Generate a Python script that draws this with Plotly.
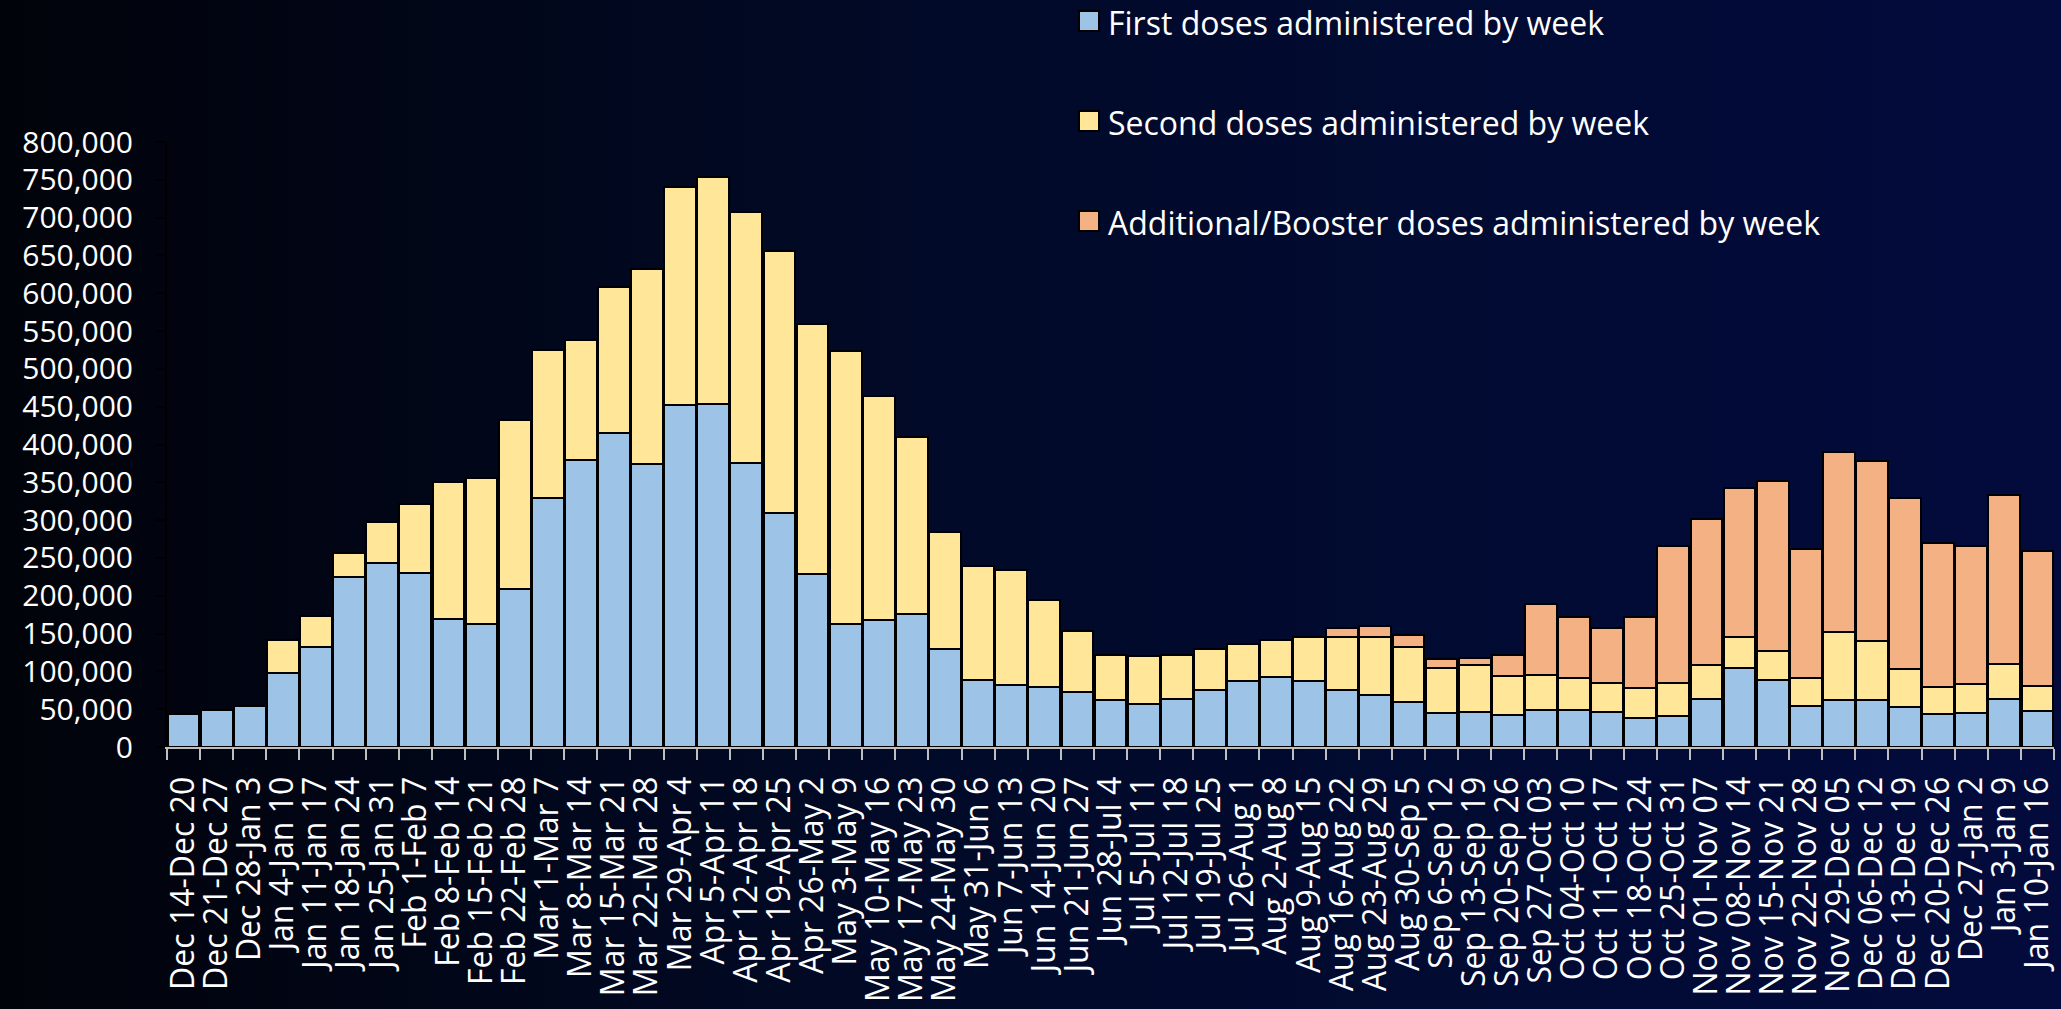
import base64
import plotly.graph_objects as go

weeks = [
    "Dec 14-Dec 20", "Dec 21-Dec 27", "Dec 28-Jan 3", "Jan 4-Jan 10", "Jan 11-Jan 17",
    "Jan 18-Jan 24", "Jan 25-Jan 31", "Feb 1-Feb 7", "Feb 8-Feb 14", "Feb 15-Feb 21",
    "Feb 22-Feb 28", "Mar 1-Mar 7", "Mar 8-Mar 14", "Mar 15-Mar 21", "Mar 22-Mar 28",
    "Mar 29-Apr 4", "Apr 5-Apr 11", "Apr 12-Apr 18", "Apr 19-Apr 25", "Apr 26-May 2",
    "May 3-May 9", "May 10-May 16", "May 17-May 23", "May 24-May 30", "May 31-Jun 6",
    "Jun 7-Jun 13", "Jun 14-Jun 20", "Jun 21-Jun 27", "Jun 28-Jul 4", "Jul 5-Jul 11",
    "Jul 12-Jul 18", "Jul 19-Jul 25", "Jul 26-Aug 1", "Aug 2-Aug 8", "Aug 9-Aug 15",
    "Aug 16-Aug 22", "Aug 23-Aug 29", "Aug 30-Sep 5", "Sep 6-Sep 12", "Sep 13-Sep 19",
    "Sep 20-Sep 26", "Sep 27-Oct 03", "Oct 04-Oct 10", "Oct 11-Oct 17", "Oct 18-Oct 24",
    "Oct 25-Oct 31", "Nov 01-Nov 07", "Nov 08-Nov 14", "Nov 15-Nov 21", "Nov 22-Nov 28",
    "Nov 29-Dec 05", "Dec 06-Dec 12", "Dec 13-Dec 19", "Dec 20-Dec 26", "Dec 27-Jan 2",
    "Jan 3-Jan 9", "Jan 10-Jan 16",
]

first_doses = [
    44000, 48500, 54000, 98000, 132000, 224500, 243000, 230000, 169000, 162000,
    209000, 329000, 379000, 415000, 374000, 452000, 454000, 376000, 309000, 229000,
    162000, 168500, 175500, 130000, 88600, 81600, 80000, 73000, 61700, 57000,
    63000, 75000, 87000, 92000, 87000, 76000, 69000, 60000, 45000, 46000,
    42000, 48500, 48500, 46000, 38000, 41000, 63500, 105000, 89000, 54000,
    62000, 62000, 52500, 43000, 44500, 63000, 47600,
]

second_doses = [
    None, None, None, 43000, 41000, 31500, 55000, 91500, 181600, 194000,
    223000, 196000, 159000, 193600, 258000, 288000, 300000, 331000, 347000, 331000,
    361500, 295500, 234500, 154000, 151400, 152100, 115000, 80000, 60300, 63000,
    59000, 54000, 49000, 50000, 58000, 70000, 76000, 72000, 60000, 62000,
    52000, 46500, 42500, 38000, 40000, 43000, 45000, 40000, 38000, 37000,
    90000, 78000, 50500, 36000, 38500, 47000, 33400,
]

booster_doses = [None] * 35 + [
    11000, 14600, 16000, 11000, 10000, 28000, 94000, 81000, 73000, 94000,
    182000, 192500, 198000, 225000, 170500, 238000, 238000, 226000, 191000, 182500,
    223000, 178000,
]

series_names = [
    "First doses administered by week",
    "Second doses administered by week",
    "Additional/Booster doses administered by week",
]
series_colors = ["#9DC3E6", "#FFE699", "#F4B183"]

W, H = 2061, 1009
ML, MR, MT, MB = 167, 7, 142, 262
PW, PH = W - ML - MR, H - MT - MB

def px_x(p):
    return (p - ML) / PW

def px_y(p):
    return (H - MB - p) / PH

svg = f"""<svg xmlns='http://www.w3.org/2000/svg' width='{W}' height='{H}' viewBox='0 0 {W} {H}' preserveAspectRatio='none'>
<defs><linearGradient id='g' x1='0' y1='0' x2='1' y2='0'>
<stop offset='0' stop-color='#01030a'/>
<stop offset='0.45' stop-color='#010a28'/>
<stop offset='1' stop-color='#020b3c'/>
</linearGradient></defs>
<rect width='{W}' height='{H}' fill='url(#g)'/></svg>"""
bg_src = "data:image/svg+xml;base64," + base64.b64encode(svg.encode()).decode()

fig = go.Figure()
for name, vals, col in zip(series_names, [first_doses, second_doses, booster_doses], series_colors):
    fig.add_trace(go.Bar(
        x=weeks, y=vals, name=name,
        marker=dict(color=col, line=dict(color="#000000", width=2)),
    ))

# legend drawn as swatches + text, stacked vertically at the top right
shapes, annotations = [], []
legend_centers = [21, 121, 221]
for name, col, cy in zip(series_names, series_colors, legend_centers):
    shapes.append(dict(
        type="rect", xref="paper", yref="paper",
        x0=px_x(1079), x1=px_x(1099), y0=px_y(cy + 10), y1=px_y(cy - 10),
        fillcolor=col, line=dict(color="#000000", width=2), layer="above",
    ))
    annotations.append(dict(
        text=name, xref="paper", yref="paper", x=px_x(1106), y=px_y(cy + 1),
        xanchor="left", yanchor="middle", showarrow=False,
        font=dict(family="Open Sans, Calibri, sans-serif", size=32, color="#FFFFFF"),
    ))

fig.update_layout(
    width=W, height=H,
    barmode="stack", bargap=0.04,
    margin=dict(l=ML, r=MR, t=MT, b=MB, pad=0, autoexpand=False),
    paper_bgcolor="#010820", plot_bgcolor="rgba(0,0,0,0)",
    font=dict(family="Open Sans, Calibri, sans-serif", color="#FFFFFF"),
    showlegend=False,
    shapes=shapes, annotations=annotations,
    images=[dict(
        source=bg_src, xref="paper", yref="paper",
        x=-ML / PW, y=1 + MT / PH, sizex=W / PW, sizey=H / PH,
        xanchor="left", yanchor="top", sizing="stretch", layer="below",
    )],
    xaxis=dict(
        type="category", tickangle=-90, tickmode="linear", dtick=1,
        tickfont=dict(family="Open Sans, sans-serif", size=32, color="#FFFFFF"),
        showline=True, linecolor="#BFBFBF", linewidth=2,
        ticks="outside", ticklen=11, tickcolor="#BFBFBF", tickwidth=2,
        tickson="boundaries", showgrid=False, zeroline=False,
        range=[-0.5, len(weeks) - 0.5], ticklabelstandoff=15,
    ),
    yaxis=dict(
        range=[0, 800000], dtick=50000, tickformat=",",
        tickfont=dict(family="Open Sans, Calibri, sans-serif", size=30, color="#FFFFFF"),
        showline=True, linecolor="#000000", linewidth=2,
        ticks="outside", ticklen=9, tickcolor="#000000", tickwidth=2,
        showgrid=False, zeroline=False, ticklabelstandoff=17,
    ),
)

fig.write_html(
    "out.html",
    config={"displayModeBar": False},
    post_script="document.body.style.margin='0';document.body.style.overflow='hidden';",
)
